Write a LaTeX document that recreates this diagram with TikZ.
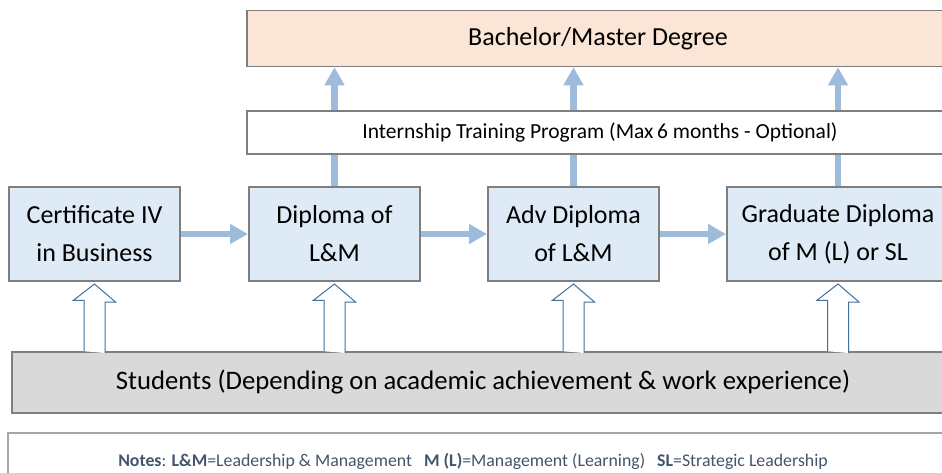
\documentclass[tikz,border=0pt]{standalone}
\usepackage{fontspec}
\setmainfont{Carlito}
\usetikzlibrary{arrows.meta,calc}
\definecolor{boxgray}{HTML}{7F7F7F}
\definecolor{lightblue}{HTML}{DEEBF7}
\definecolor{peach}{HTML}{FBE5D6}
\definecolor{flowblue}{HTML}{9DBBDB}
\definecolor{outlineblue}{HTML}{41719C}
\definecolor{lightgray}{HTML}{D9D9D9}
\definecolor{notegray}{HTML}{A6A6A6}
\definecolor{notetext}{HTML}{44546A}
\tikzset{
  level/.style = {draw = boxgray, fill = lightblue, line width = 2pt,
    minimum width = 171pt, minimum height = 94pt, inner sep = 0pt,
    align = center, font = \fontsize{26}{38}\selectfont},
  band/.style = {draw = boxgray, line width = 1.5pt, inner sep = 0pt},
  flow/.style = {draw = flowblue, line width = 6.5pt},
  flowhead/.style = {flow, -{Triangle[width = 19pt, length = 18pt]}},
  hollow/.style = {draw = outlineblue, fill = white, line width = 1pt}
}
\begin{document}
\begin{tikzpicture}
      [x = 1pt, y = -1pt]
      \useasboundingbox (0,0) rectangle (942,472);
      \clip (0,0) rectangle (942,472);
      % top rows
      \node[band, fill = peach, minimum width = 702pt, minimum height = 56pt,
        font = \fontsize{26}{30}\selectfont] (degree) at (598,38.5) {Bachelor/Master Degree};
      \node[band, fill = white, minimum width = 706pt, minimum height = 43pt,
        font = \fontsize{21.5}{25}\selectfont] (intern) at (600,132.5)
        {Internship Training Program (Max\,6 months - Optional)};
      % qualification levels
      \node[level] (cert) at (94.5,234) {Certificate IV\\in Business};
      \node[level] (dipl) at (334.5,234) {Diploma of\\L\&M};
      \node[level] (adv) at (573.5,234) {Adv Diploma\\of L\&M};
      \node[level, minimum width = 222pt] (grad) at (838,234) {Graduate Diploma\\of M (L) or SL};
      % students
      \node[band, fill = lightgray, minimum width = 942pt, minimum height = 61pt,
        font = \fontsize{26.7}{30}\selectfont] (stud) at (483,382.5)
        {Students (Depending on academic achievement \& work experience)};
      \draw[draw = notegray, line width = 2pt] (8,490) -- (8,433) -- (960,433) -- (960,490);
      \node[text = notetext, font = \fontsize{17.8}{22}\selectfont] (notes) at (473,461)
        {\textbf{Notes}: \textbf{L\&M}=Leadership \& Management\ \ \ \textbf{M (L)}=Management (Learning)\ \ \ \textbf{SL}=Strategic Leadership};
      % progression
      \draw[flowhead] (cert) -- (dipl);
      \draw[flowhead] (dipl) -- (adv);
      \draw[flowhead] (adv) -- (grad);
      \foreach \n in {dipl, adv, grad}
      {
        \draw[flow] (\n.north) -- (\n.north |- intern.south);
        \draw[flowhead] (\n.north |- intern.north) -- (\n.north |- degree.south);
      }
      % entry arrows
      \foreach \n in {cert, dipl, adv, grad}
        \path[hollow] ($(\n.south |- stud.north) + (-10.5,0)$) -- ++(0,-51) -- ++(-10.5,0)
          -- ([yshift = -2pt]\n.south) -- ++(21,18) -- ++(-10.5,0) -- ++(0,51);
\end{tikzpicture}
\end{document}
